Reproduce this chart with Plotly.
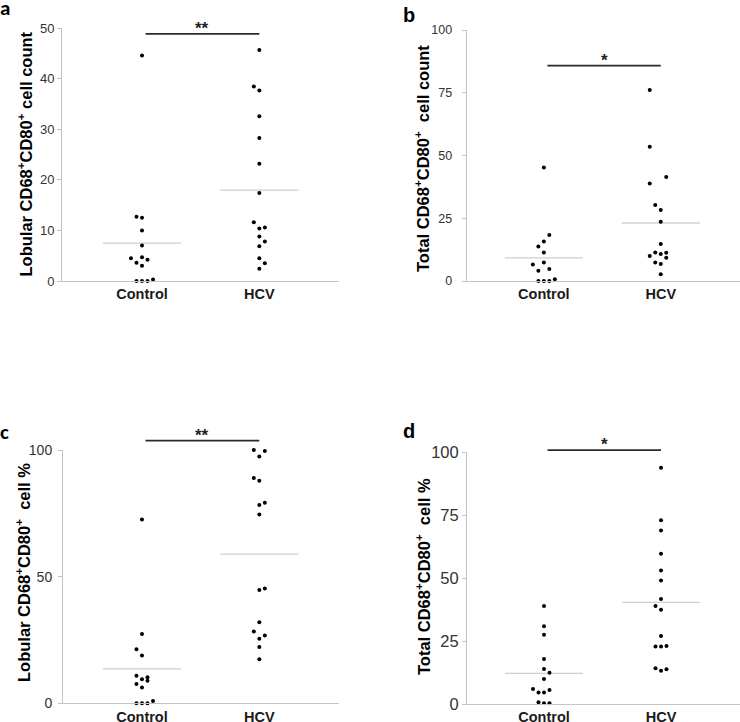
import plotly.graph_objects as go

W, H = 740, 722

categories = ["Control", "HCV"]

# ---- data ----
a_control = [44.6, 12.7, 12.5, 10.0, 7.0, 4.5, 3.6, 4.7, 4.2, 3.0, 0.0, 0.0, 0.0, 0.3]
a_control_slot = [0, -1, 0, 0, 0, -2, -1, 0, 1, 0, -1, 0, 1, 2]
a_hcv = [45.7, 38.5, 37.7, 32.6, 28.3, 23.2, 17.4, 11.6, 10.4, 10.6, 8.8, 7.8, 6.9, 4.5, 3.5, 2.4]
a_hcv_slot = [0, -1, 0, 0, 0, 0, 0, -1, 0, 1, 0, 1, 0, 0, 1, 0]
a_means = [7.5, 18.0]
a_sig = 48.9

b_control = [45.2, 18.3, 15.7, 13.7, 11.4, 7.4, 6.6, 4.8, 4.1, 0.0, 0.0, 0.0, 0.7]
b_control_slot = [0, 1, 0, -1, 0, 0, -2, 1, -1, -1, 0, 1, 2]
b_hcv = [76.1, 53.5, 41.4, 38.8, 30.3, 28.3, 23.6, 14.7, 11.4, 11.3, 10.8, 10.0, 9.3, 7.4, 6.8, 2.7]
b_hcv_slot = [-2, -2, 1, -2, -1, 0, 0, 0, -1, 1, 0, -2, 1, -1, 0, 0]
b_means = [9.2, 23.1]
b_sig = 85.8

c_control = [72.6, 27.4, 21.3, 18.9, 10.9, 9.5, 10.3, 8.9, 7.6, 6.2, 0.0, 0.0, 0.0, 0.9]
c_control_slot = [0, 0, -1, 0, -1, 0, 1, 1, -1, 0, -1, 0, 1, 2]
c_hcv = [100.0, 99.6, 97.4, 88.9, 87.9, 79.2, 78.3, 74.5, 45.3, 44.7, 32.0, 28.3, 26.8, 25.5, 22.2, 17.4]
c_hcv_slot = [-1, 1, 0, -1, 0, 1, 0, 0, 1, 0, 0, -1, 1, 0, 0, 0]
c_means = [13.6, 58.9]
c_sig = 103.7

d_control = [38.9, 30.9, 27.5, 17.9, 13.9, 12.4, 9.9, 6.0, 4.6, 4.6, 5.6, 0.7, 0.3, 0.3]
d_control_slot = [0, 0, 0, 0, 0, 1, 0, -2, -1, 0, 1, -1, 0, 1]
d_hcv = [93.9, 73.0, 68.9, 59.7, 53.0, 49.1, 41.7, 38.9, 37.4, 27.0, 22.8, 22.8, 23.0, 14.2, 13.2, 13.8]
d_hcv_slot = [0, 0, 0, 0, 0, 0, 0, -1, 0, 0, -1, 0, 1, -1, 0, 1]
d_means = [12.2, 40.4]
d_sig = 100.9

a_ticks = [0, 10, 20, 30, 40, 50]
b_ticks = [0, 25, 50, 75, 100]
c_ticks = [0, 50, 100]
d_ticks = [0, 25, 50, 75, 100]

a_title = "Lobular CD68<sup>+</sup>CD80<sup>+</sup> cell count"
b_title = "Total CD68<sup>+</sup>CD80<sup>+</sup>  cell count"
c_title = "Lobular CD68<sup>+</sup>CD80<sup>+</sup>  cell %"
d_title = "Total CD68<sup>+</sup>CD80<sup>+</sup>  cell %"

# ---- layout geometry (pixels) ----
panels = [
    dict(key="a", ctrl=a_control, cs=a_control_slot, hcv=a_hcv, hs=a_hcv_slot, means=a_means,
         sig=a_sig, stars="**", ticks=a_ticks, title=a_title,
         x0=62, x1=339, ytop=28.3, ybot=281, xr=[0.318, 2.679],
         tfs=13, tso=0, title_x=25, title_y=154.5, letter=(5, 8), lfont="Carlito", lsize=21),
    dict(key="b", ctrl=b_control, cs=b_control_slot, hcv=b_hcv, hs=b_hcv_slot, means=b_means,
         sig=b_sig, stars="*", ticks=b_ticks, title=b_title,
         x0=466.7, x1=740, ytop=30, ybot=281, xr=[0.340, 2.678],
         tfs=12.5, tso=7, title_x=422, title_y=158, letter=(409, 15), lfont="Arial", lsize=20),
    dict(key="c", ctrl=c_control, cs=c_control_slot, hcv=c_hcv, hs=c_hcv_slot, means=c_means,
         sig=c_sig, stars="**", ticks=c_ticks, title=c_title,
         x0=63, x1=339, ytop=450, ybot=703.3, xr=[0.327, 2.679],
         tfs=14, tso=3, title_x=23, title_y=573, letter=(4, 432), lfont="Carlito", lsize=21),
    dict(key="d", ctrl=d_control, cs=d_control_slot, hcv=d_hcv, hs=d_hcv_slot, means=d_means,
         sig=d_sig, stars="*", ticks=d_ticks, title=d_title,
         x0=467, x1=740, ytop=452.3, ybot=704, xr=[0.342, 2.675],
         tfs=16.5, tso=0, title_x=423, title_y=577, letter=(409, 431), lfont="Arial", lsize=20),
]

STEP = 0.047
HALF = 0.333
AXIS_COLOR = "#c4c4c4"
MEAN_COLOR = "#cfcfcf"
FONT = "Liberation Sans, Arial, sans-serif"

fig = go.Figure()
shapes = []
annotations = []
layout = {}

for i, p in enumerate(panels, start=1):
    xa = "x" if i == 1 else f"x{i}"
    ya = "y" if i == 1 else f"y{i}"
    xkey = "xaxis" if i == 1 else f"xaxis{i}"
    ykey = "yaxis" if i == 1 else f"yaxis{i}"
    ymax = p["ticks"][-1]

    # mean lines
    for ci, m in enumerate(p["means"]):
        c = ci + 1
        fig.add_trace(go.Scatter(x=[c - HALF, c + HALF], y=[m, m], mode="lines",
                                 line=dict(color=MEAN_COLOR, width=1.3),
                                 xaxis=xa, yaxis=ya, showlegend=False, hoverinfo="skip"))
    # points
    for c, vals, slots in [(1, p["ctrl"], p["cs"]), (2, p["hcv"], p["hs"])]:
        fig.add_trace(go.Scatter(x=[c + s * STEP for s in slots], y=vals, mode="markers",
                                 marker=dict(color="black", size=4),
                                 cliponaxis=False, xaxis=xa, yaxis=ya, showlegend=False))

    layout[xkey] = dict(domain=[p["x0"] / W, p["x1"] / W], range=p["xr"], anchor=ya,
                        automargin=False,
                        showline=True, linecolor=AXIS_COLOR, linewidth=1, showgrid=False,
                        zeroline=False, tickvals=[1, 2], ticktext=categories, ticks="",
                        ticklabelstandoff=0,
                        tickfont=dict(family=FONT, size=14.5, color="#1a1a1a", weight="bold"),
                        fixedrange=True)
    layout[ykey] = dict(domain=[1 - p["ybot"] / H, 1 - p["ytop"] / H], range=[0, ymax],
                        anchor=xa, automargin=False,
                        showline=True, linecolor=AXIS_COLOR, linewidth=1,
                        showgrid=False, zeroline=False, tickvals=p["ticks"],
                        ticks="outside", ticklen=4, tickcolor=AXIS_COLOR,
                        ticklabelstandoff=p["tso"],
                        tickfont=dict(family=FONT, size=p["tfs"], color="#333333"),
                        fixedrange=True)

    # significance bar and stars (domain fractions so nothing is clipped)
    xr0, xr1 = p["xr"]
    fx0 = (1.03 - xr0) / (xr1 - xr0)
    fx1 = (2.0 - xr0) / (xr1 - xr0)
    fxs = (1.515 - xr0) / (xr1 - xr0)
    fy = p["sig"] / ymax
    shapes.append(dict(type="line", xref=f"{xa} domain", yref=f"{ya} domain",
                       x0=fx0, x1=fx1, y0=fy, y1=fy, line=dict(color="#2b2b2b", width=1.8)))
    annotations.append(dict(x=fxs, y=fy, xref=f"{xa} domain", yref=f"{ya} domain",
                            text=p["stars"], showarrow=False, yanchor="bottom", yshift=-6,
                            font=dict(family=FONT, size=17, color="#222222", weight="bold")))
    # y title
    annotations.append(dict(x=p["title_x"] / W, y=1 - p["title_y"] / H, xref="paper", yref="paper",
                            text=p["title"], textangle=-90, showarrow=False,
                            xanchor="center", yanchor="middle",
                            font=dict(family=FONT, size=16.5, color="black", weight="bold")))
    # panel letter
    lx, ly = p["letter"]
    annotations.append(dict(x=lx / W, y=1 - ly / H, xref="paper", yref="paper",
                            text=p["key"], showarrow=False, xanchor="center", yanchor="middle",
                            font=dict(family=p["lfont"] + ", Liberation Sans, sans-serif",
                                      size=p["lsize"], color="black", weight="bold")))

fig.update_layout(width=W, height=H, margin=dict(l=0, r=0, t=0, b=0, autoexpand=False),
                  paper_bgcolor="white", plot_bgcolor="white", hovermode=False,
                  shapes=shapes, annotations=annotations, showlegend=False, **layout)

fig.write_html("out.html", config={"displayModeBar": False, "staticPlot": True},
               post_script="document.body.style.margin='0';document.body.style.overflow='hidden';")
